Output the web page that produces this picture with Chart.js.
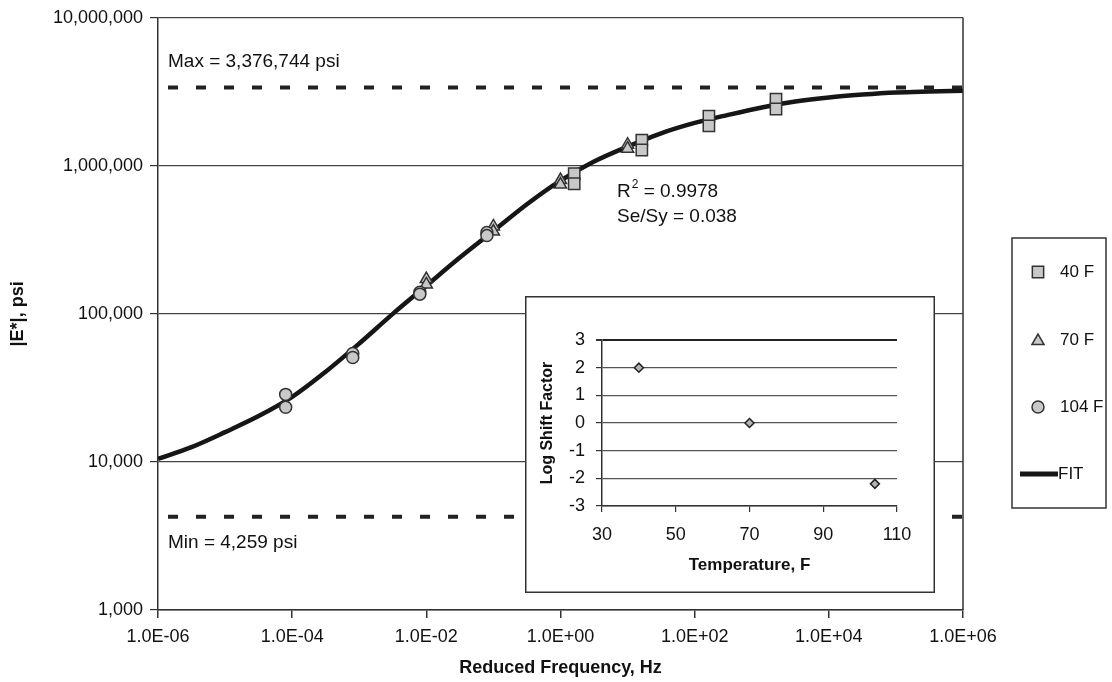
<!DOCTYPE html>
<html>
<head>
<meta charset="utf-8">
<script src="https://cdn.jsdelivr.net/npm/chart.js@4.4.1/dist/chart.umd.min.js"></script>
<style>
  html, body { margin: 0; padding: 0; background: #fff; }
  #wrap  { position: relative; width: 1112px; height: 682px; }
  #main  { position: absolute; left: 0; top: 0; }
  #inset { position: absolute; left: 525px; top: 296px; }
</style>
</head>
<body>
<div id="wrap">
  <canvas id="main" width="1112" height="682"></canvas>
  <canvas id="inset" width="410" height="297"></canvas>
</div>
<script>
// --- data ---
const freq40 = [1.6, 1.6, 16.3, 16.3, 163, 163, 1630, 1630];
const e40    = [884000, 757000, 1490000, 1280000, 2170000, 1860000, 2820000, 2420000];

const freq70 = [0.01, 0.01, 0.1, 0.1, 1, 1, 10, 10];
const e70    = [172000, 158000, 390000, 360000, 802000, 748000, 1390000, 1306000];

const freq104 = [8e-5, 8e-5, 8e-4, 8e-4, 8e-3, 8e-3, 8e-2, 8e-2];
const e104    = [28600, 23400, 54000, 50700, 140000, 136000, 355000, 338000];

const fitFreq = [1e-6, 3.16e-6, 1e-5, 3.16e-5, 1e-4, 3.16e-4, 1e-3, 3.16e-3, 1e-2, 3.16e-2,
                 1e-1, 3.16e-1, 1, 3.16, 10, 31.6, 100, 316, 1e3, 3.16e3, 1e4, 3.16e4, 1e5, 3.16e5, 1e6];
const fitE    = [10500, 12600, 15900, 20400, 27500, 40700, 63100, 100000, 155000, 240000,
                 363000, 550000, 794000, 1070000, 1350000, 1660000, 1950000, 2210000, 2480000, 2720000,
                 2900000, 3030000, 3130000, 3180000, 3220000];

const maxE = 3376744;
const minE = 4259;

const xTickValues = [1e-6, 1e-4, 1e-2, 1, 1e2, 1e4, 1e6];
const xTickLabels = ['1.0E-06', '1.0E-04', '1.0E-02', '1.0E+00', '1.0E+02', '1.0E+04', '1.0E+06'];
const yTickValues = [1e3, 1e4, 1e5, 1e6, 1e7];
const yTickLabels = ['1,000', '10,000', '100,000', '1,000,000', '10,000,000'];

const shiftTemp = [40, 70, 104];
const shiftLog  = [2.0, 0, -2.2];
const tempTicks = [30, 50, 70, 90, 110];

const seriesNames = ['40 F', '70 F', '104 F', 'FIT'];
// ----------------------------------

const FONT = "'Liberation Sans', Arial, sans-serif";
Chart.defaults.font.family = FONT;
Chart.defaults.color = '#111';

const pts = (xs, ys) => xs.map((x, i) => ({ x, y: ys[i] }));
const markerFill = '#c8c8c8';
const markerEdge = '#333';

function drawMarker(ctx, style, x, y, r) {
  ctx.save();
  ctx.fillStyle = markerFill;
  ctx.strokeStyle = markerEdge;
  ctx.lineWidth = 1.5;
  ctx.beginPath();
  if (style === 'rect') {
    const s = Math.SQRT1_2 * r;
    ctx.rect(x - s, y - s, 2 * s, 2 * s);
  } else if (style === 'triangle') {
    for (let k = 0; k < 3; k++) {
      const a = k * 2 * Math.PI / 3;
      const px = x + Math.sin(a) * r, py = y - Math.cos(a) * r;
      k ? ctx.lineTo(px, py) : ctx.moveTo(px, py);
    }
    ctx.closePath();
  } else {
    ctx.arc(x, y, r, 0, Math.PI * 2);
  }
  ctx.fill();
  ctx.stroke();
  ctx.restore();
}

const frame = {
  id: 'frame',
  afterDraw(chart) {
    const { ctx, chartArea: a } = chart;
    ctx.save();
    ctx.strokeStyle = '#333';
    ctx.lineWidth = 1.5;
    ctx.beginPath();
    ctx.moveTo(a.right, a.top);
    ctx.lineTo(a.right, a.bottom);
    ctx.stroke();
    ctx.restore();
  }
};

const notes = {
  id: 'notes',
  afterDraw(chart) {
    const { ctx, chartArea: a } = chart;
    const y = chart.scales.y;
    ctx.save();
    ctx.fillStyle = '#111';
    ctx.textBaseline = 'middle';
    ctx.font = `19px ${FONT}`;
    ctx.fillText('Max = 3,376,744 psi', a.left + 10, y.getPixelForValue(maxE) - 26);
    ctx.fillText('Min = 4,259 psi', a.left + 10, y.getPixelForValue(minE) + 26);

    let x0 = 617;
    ctx.fillText('R', x0, 192);
    x0 += ctx.measureText('R').width;
    ctx.font = `12px ${FONT}`;
    ctx.fillText('2', x0 + 1, 185);
    x0 += ctx.measureText('2').width + 1;
    ctx.font = `19px ${FONT}`;
    ctx.fillText(' = 0.9978', x0, 192);
    ctx.fillText('Se/Sy = 0.038', 617, 217);
    ctx.restore();
  }
};

const legendBox = {
  id: 'legendBox',
  afterDraw(chart) {
    const { ctx } = chart;
    ctx.save();
    ctx.strokeStyle = '#333';
    ctx.lineWidth = 1.5;
    ctx.strokeRect(1012, 238, 94, 270);
    ctx.fillStyle = '#111';
    ctx.font = `17px ${FONT}`;
    ctx.textBaseline = 'middle';
    drawMarker(ctx, 'rect', 1038, 272, 8);
    ctx.fillText(seriesNames[0], 1060, 272);
    drawMarker(ctx, 'triangle', 1038, 341, 7);
    ctx.fillText(seriesNames[1], 1060, 340);
    drawMarker(ctx, 'circle', 1038, 407, 6);
    ctx.fillText(seriesNames[2], 1060, 407);
    ctx.strokeStyle = '#161616';
    ctx.lineWidth = 5;
    ctx.beginPath();
    ctx.moveTo(1020, 474);
    ctx.lineTo(1058, 474);
    ctx.stroke();
    ctx.fillText(seriesNames[3], 1058, 474);
    ctx.restore();
  }
};

const markerSet = (label, xs, ys, style, r) => ({
  label, data: pts(xs, ys), pointStyle: style, pointRadius: r,
  backgroundColor: markerFill, borderColor: markerEdge, borderWidth: 1.5, order: 0
});

const dashLine = (label, v) => ({
  label, data: pts([1e-6, 1e6], [v, v]), showLine: true, pointRadius: 0,
  borderColor: '#222', borderWidth: 4, borderDash: [10, 18], borderDashOffset: 18,
  borderCapStyle: 'butt', order: 6
});

new Chart(document.getElementById('main'), {
  type: 'scatter',
  data: {
    datasets: [
      markerSet(seriesNames[2], freq104, e104, 'circle', 6),
      markerSet(seriesNames[1], freq70, e70, 'triangle', 7),
      markerSet(seriesNames[0], freq40, e40, 'rect', 8),
      {
        label: seriesNames[3], data: pts(fitFreq, fitE), showLine: true, pointRadius: 0,
        borderColor: '#161616', borderWidth: 4.5, cubicInterpolationMode: 'monotone', order: 5
      },
      dashLine('max', maxE),
      dashLine('min', minE),
    ]
  },
  options: {
    responsive: false,
    animation: false,
    layout: { padding: { left: 0, right: 149, top: 15, bottom: 0 } },
    plugins: { legend: { display: false }, tooltip: { enabled: false } },
    scales: {
      x: {
        type: 'logarithmic', min: 1e-6, max: 1e6,
        afterBuildTicks: s => { s.ticks = xTickValues.map(v => ({ value: v })); },
        afterFit: s => { s.height = 72; },
        ticks: { callback: (v, i) => xTickLabels[i], font: { size: 18 }, padding: 8,
                 maxRotation: 0, autoSkip: false, color: '#111' },
        grid: { drawOnChartArea: false, drawTicks: true, tickLength: 8, color: '#333', lineWidth: 1.5 },
        border: { color: '#333', width: 1.5 },
        title: { display: true, text: 'Reduced Frequency, Hz', color: '#111',
                 font: { size: 18, weight: 'bold', lineHeight: 1.2 }, padding: { top: 0, bottom: 3 } }
      },
      y: {
        type: 'logarithmic', min: 1e3, max: 1e7,
        afterBuildTicks: s => { s.ticks = yTickValues.map(v => ({ value: v })); },
        afterFit: s => { s.width = 158; },
        ticks: { callback: (v, i) => yTickLabels[i], font: { size: 18 }, padding: 7,
                 autoSkip: false, color: '#111' },
        grid: { color: '#444', lineWidth: 1.2, tickLength: 8, tickColor: '#333' },
        border: { color: '#333', width: 1.5 },
        title: { display: true, text: '|E*|, psi', color: '#111',
                 font: { size: 18, weight: 'bold', lineHeight: 1.2 }, padding: { top: 7, bottom: 0 } }
      }
    }
  },
  plugins: [frame, notes, legendBox]
});

const insetBg = {
  id: 'insetBg',
  beforeDraw(chart) {
    const { ctx, width, height } = chart;
    ctx.save();
    ctx.fillStyle = '#fff';
    ctx.fillRect(0, 0, width, height);
    ctx.strokeStyle = '#333';
    ctx.lineWidth = 1.5;
    ctx.strokeRect(0.75, 0.75, width - 1.5, height - 1.5);
    ctx.restore();
  }
};

new Chart(document.getElementById('inset'), {
  type: 'scatter',
  data: {
    datasets: [{
      label: 'shift', data: pts(shiftTemp, shiftLog), pointStyle: 'rectRot', pointRadius: 4.5,
      backgroundColor: '#b4b4b4', borderColor: '#222', borderWidth: 1.5
    }]
  },
  options: {
    responsive: false,
    animation: false,
    layout: { padding: { left: 0, right: 38, top: 44, bottom: 0 } },
    plugins: { legend: { display: false }, tooltip: { enabled: false } },
    scales: {
      x: {
        type: 'linear', min: 30, max: 110,
        afterBuildTicks: s => { s.ticks = tempTicks.map(v => ({ value: v })); },
        afterFit: s => { s.height = 87; },
        ticks: { font: { size: 18 }, padding: 12, maxRotation: 0, color: '#111' },
        grid: { drawOnChartArea: false, tickLength: 6, color: '#333', lineWidth: 1.2 },
        border: { color: '#333', width: 1.5 },
        title: { display: true, text: 'Temperature, F', color: '#111',
                 font: { size: 17, weight: 'bold', lineHeight: 1.2 }, padding: { top: 0, bottom: 17 } }
      },
      y: {
        type: 'linear', min: -3, max: 3,
        afterFit: s => { s.width = 77; },
        ticks: { stepSize: 1, font: { size: 18 }, padding: 11, color: '#111' },
        grid: { color: c => c.tick && c.tick.value === 3 ? '#222' : '#555',
                lineWidth: c => c.tick && c.tick.value === 3 ? 2 : 1.2,
                tickLength: 6, tickColor: '#333' },
        border: { color: '#333', width: 1.5 },
        title: { display: true, text: 'Log Shift Factor', color: '#111',
                 font: { size: 16, weight: 'bold', lineHeight: 1.2 }, padding: { top: 13, bottom: 0 } }
      }
    }
  },
  plugins: [insetBg]
});
</script>
</body>
</html>
